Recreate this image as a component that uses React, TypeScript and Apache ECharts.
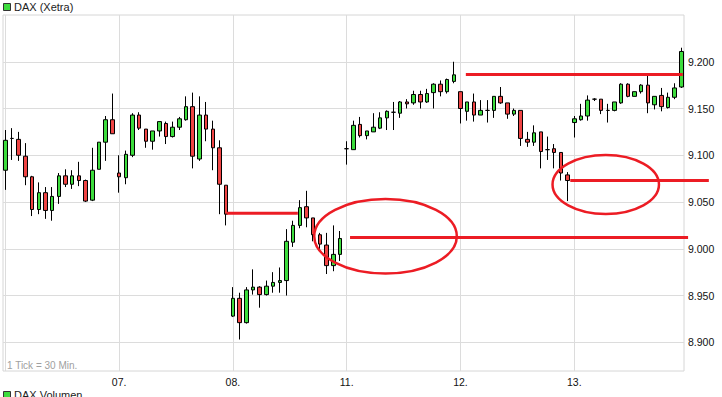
import React, { useEffect, useRef } from 'react';
import * as echarts from 'echarts';

const dayLabels = ['06.', '07.', '08.', '11.', '12.', '13.'];
const dayStartIndex = [0, 17, 34, 51, 68, 85];
const priceTicks = [8900, 8950, 9000, 9050, 9100, 9150, 9200];

const openValues = [
  9084, 9118, 9117, 9099, 9077, 9042, 9060, 9041, 9056, 9078, 9069, 9078, 9073, 9052, 9085, 9114, 9138,
  9081, 9076, 9100, 9143, 9128, 9115, 9126, 9134, 9120, 9130, 9138, 9152, 9096, 9143, 9128, 9108, 9068,
  8928, 8947, 8921, 8956, 8959, 8951, 8960, 8964, 8966, 9007, 9025, 9045, 9033, 9015, 9004, 8982, 8994,
  9107, 9106, 9133, 9121, 9125, 9129, 9140, 9146, 9145, 9157, 9156, 9165, 9157, 9167, 9176, 9168, 9179,
  9168, 9147, 9157, 9143, 9148, 9148, 9163, 9156, 9144, 9148, 9117, 9114, 9125, 9106, 9107, 9103, 9079,
  9135, 9138, 9142, 9160, 9160, 9148, 9148, 9156, 9176, 9163, 9168, 9175, 9154, 9164, 9151, 9162, 9173,
];
const closeValues = [
  9116, 9118, 9100, 9077, 9042, 9060, 9041, 9056, 9078, 9069, 9078, 9073, 9051, 9084, 9114, 9138, 9123,
  9077, 9101, 9143, 9129, 9115, 9126, 9136, 9120, 9130, 9139, 9152, 9099, 9143, 9128, 9108, 9069, 9037,
  8947, 8921, 8956, 8959, 8951, 8960, 8964, 8966, 9008, 9025, 9044, 9033, 9015, 9005, 8982, 8994, 9011,
  9107, 9132, 9121, 9126, 9130, 9140, 9147, 9146, 9157, 9155, 9165, 9157, 9166, 9176, 9168, 9181, 9186,
  9150, 9157, 9143, 9148, 9148, 9163, 9156, 9144, 9148, 9118, 9114, 9124, 9104, 9106, 9103, 9081, 9073,
  9139, 9142, 9159, 9160, 9148, 9148, 9157, 9176, 9163, 9168, 9175, 9156, 9163, 9152, 9162, 9172, 9211,
];
const lowValues = [
  9063, 9095, 9094, 9068, 9035, 9037, 9032, 9030, 9048, 9066, 9064, 9067, 9050, 9051, 9085, 9094, 9123,
  9060, 9069, 9098, 9127, 9108, 9106, 9120, 9112, 9119, 9127, 9137, 9086, 9094, 9115, 9084, 9037, 9025,
  8927, 8903, 8920, 8951, 8937, 8950, 8953, 8953, 8950, 9002, 9022, 9023, 9008, 8998, 8973, 8976, 8987,
  9090, 9106, 9119, 9117, 9125, 9128, 9127, 9127, 9140, 9150, 9154, 9150, 9156, 9150, 9163, 9166, 9177,
  9134, 9137, 9136, 9143, 9135, 9140, 9155, 9139, 9142, 9110, 9109, 9110, 9086, 9095, 9086, 9073, 9051,
  9119, 9137, 9137, 9158, 9144, 9135, 9147, 9155, 9162, 9163, 9166, 9145, 9149, 9147, 9150, 9160, 9172,
];
const highValues = [
  9127, 9129, 9125, 9113, 9078, 9071, 9066, 9066, 9081, 9085, 9084, 9093, 9074, 9108, 9114, 9142, 9166,
  9100, 9105, 9145, 9146, 9128, 9126, 9136, 9136, 9136, 9141, 9163, 9167, 9163, 9157, 9137, 9116, 9068,
  8959, 8953, 8959, 8978, 8960, 8966, 8975, 8980, 9021, 9030, 9052, 9062, 9033, 9017, 9017, 9025, 9019,
  9115, 9137, 9141, 9126, 9145, 9146, 9148, 9157, 9158, 9160, 9169, 9169, 9171, 9177, 9180, 9182, 9200,
  9168, 9157, 9166, 9159, 9159, 9163, 9173, 9156, 9150, 9148, 9125, 9132, 9125, 9120, 9112, 9103, 9082,
  9142, 9155, 9164, 9161, 9160, 9155, 9157, 9177, 9177, 9168, 9176, 9185, 9163, 9172, 9167, 9177, 9215,
];

// hand-drawn annotation lines: start index, end index, price level
const lineStart = [33.1, 51.5, 68.8, 84.4];
const lineEnd = [43.7, 102.0, 101.2, 105.1];
const linePrice = [9038, 9012, 9186.5, 9073];
// hand-drawn ellipses: centre (index, price) and radii (index units, price units)
const ellipseCenterIndex = [56.8, 89.7];
const ellipseCenterPrice = [9013.4, 9068.7];
const ellipseRadiusIndex = [10.65, 7.95];
const ellipseRadiusPrice = [39.8, 31.5];

const GREEN = '#3ddc3d';
const RED = '#ef4444';
const ANNOT = '#ec1c24';
const FONT = '"Liberation Sans", Arial, sans-serif';

function fmtPrice(v: number): string {
  const s = Math.round(v).toString();
  return s.length > 3 ? s.slice(0, s.length - 3) + '.' + s.slice(s.length - 3) : s;
}

export default function App() {
  const ref = useRef<HTMLDivElement>(null);
  useEffect(() => {
    if (!ref.current) return;
    const chart = echarts.init(ref.current, undefined, { renderer: 'svg' });
    const candles = openValues.map((o, i) => [i, o, closeValues[i], lowValues[i], highValues[i]]);
    const lines = lineStart.map((s, i) => [s, lineEnd[i], linePrice[i]]);
    const ellipses = ellipseCenterIndex.map((c, i) => [c, ellipseCenterPrice[i], ellipseRadiusIndex[i], ellipseRadiusPrice[i]]);
    chart.setOption({
      animation: false,
      grid: {
        left: 3, top: 15, width: 681, height: 356,
        show: true, borderColor: '#d6d6d6', borderWidth: 1, backgroundColor: '#fff',
      },
      xAxis: {
        type: 'value', min: -0.344, max: 101.39,
        axisLine: { show: false },
        axisTick: { show: false, customValues: dayStartIndex },
        axisLabel: {
          customValues: dayStartIndex,
          formatter: (v: number) => {
            const k = dayStartIndex.indexOf(Math.round(v));
            return k > 0 ? dayLabels[k] : '';
          },
          color: '#111', fontSize: 10.5, fontFamily: FONT, margin: 5,
        },
        splitLine: { show: true, lineStyle: { color: '#dcdcdc', width: 1 } },
      },
      yAxis: {
        type: 'value', position: 'right', min: 8869.3, max: 9250, scale: true,
        axisLine: { show: false },
        axisTick: { show: false, customValues: priceTicks },
        axisLabel: {
          customValues: priceTicks,
          formatter: (v: number) => fmtPrice(v),
          color: '#111', fontSize: 10.5, fontFamily: FONT, margin: 4,
        },
        splitLine: { show: true, lineStyle: { color: '#dcdcdc', width: 1 } },
      },
      series: [
        {
          type: 'candlestick',
          data: candles,
          encode: { x: 0, y: [1, 2, 3, 4] },
          barWidth: 4,
          itemStyle: {
            color: GREEN, color0: RED,
            borderColor: '#000', borderColor0: '#000', borderColorDoji: '#000',
            borderWidth: 1,
          },
        },
        {
          type: 'custom',
          data: lines,
          encode: { x: [0, 1], y: 2 },
          clip: false,
          z: 5,
          renderItem: (_p: any, api: any) => {
            const a = api.coord([api.value(0), api.value(2)]);
            const b = api.coord([api.value(1), api.value(2)]);
            return {
              type: 'line',
              shape: { x1: a[0], y1: a[1], x2: b[0], y2: b[1] },
              style: { stroke: ANNOT, lineWidth: 3, fill: null },
            };
          },
        },
        {
          type: 'custom',
          data: ellipses,
          encode: { x: 0, y: 1 },
          clip: false,
          z: 5,
          renderItem: (_p: any, api: any) => {
            const c = api.coord([api.value(0), api.value(1)]);
            const sz = api.size([api.value(2), api.value(3)], [api.value(0), api.value(1)]);
            return {
              type: 'ellipse',
              shape: { cx: c[0], cy: c[1], rx: sz[0], ry: sz[1] },
              style: { stroke: ANNOT, lineWidth: 2.5, fill: null },
            };
          },
        },
      ],
      graphic: [
        { type: 'rect', shape: { x: 3.5, y: 3.5, width: 7, height: 7 }, style: { fill: GREEN, stroke: '#333', lineWidth: 1 } },
        { type: 'text', x: 14, y: 7, style: { text: 'DAX (Xetra)', fill: '#222', font: '11px ' + FONT, textVerticalAlign: 'middle' } },
        { type: 'text', x: 7, y: 365, style: { text: '1 Tick = 30 Min.', fill: '#a0a0a0', font: '10px ' + FONT, textVerticalAlign: 'middle' } },
        { type: 'rect', shape: { x: 3.5, y: 391.5, width: 7, height: 7 }, style: { fill: GREEN, stroke: '#333', lineWidth: 1 } },
        { type: 'text', x: 14, y: 395, style: { text: 'DAX Volumen', fill: '#222', font: '11px ' + FONT, textVerticalAlign: 'middle' } },
      ],
    });
    return () => chart.dispose();
  }, []);
  return <div ref={ref} style={{ position: 'absolute', left: 0, top: 0, width: 722, height: 397, background: '#fff' }} />;
}
